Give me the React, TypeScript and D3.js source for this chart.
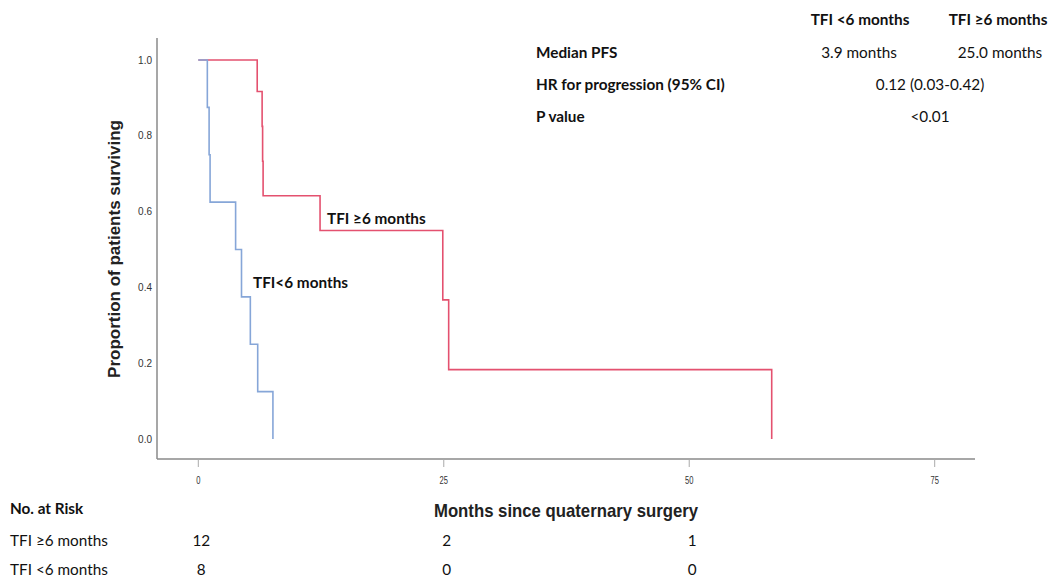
import React from 'react';
import * as d3 from 'd3';

// Kaplan-Meier steps (months, proportion surviving)
const longTimes = [0, 6.0, 6.5, 6.55, 6.6, 12.4, 24.9, 25.5, 58.4];
const longSurv = [1.0, 0.917, 0.825, 0.733, 0.642, 0.55, 0.367, 0.183, 0.0];
const shortTimes = [0, 0.92, 1.1, 1.2, 3.8, 4.4, 5.3, 6.05, 7.6];
const shortSurv = [1.0, 0.875, 0.75, 0.625, 0.5, 0.375, 0.25, 0.125, 0.0];

const xTicks = [0, 25, 50, 75];
const yTicks = [0, 0.2, 0.4, 0.6, 0.8, 1.0];

const riskTimes = [0, 25, 50];
const riskLong = [12, 2, 1];
const riskShort = [8, 0, 0];

const RED = '#e4516f';
const BLUE = '#86a6d8';
const CAL = 'Lato, "Open Sans", sans-serif';
const ARIAL = '"Liberation Sans", Arial, sans-serif';
const FS = 15.3;

function App() {
  const x = d3.scaleLinear().domain([0, 75]).range([198.3, 934.7]);
  const y = d3.scaleLinear().domain([0, 1]).range([439, 60]);

  const line = d3.line<[number, number]>()
    .x(d => x(d[0]))
    .y(d => y(d[1]))
    .curve(d3.curveStepAfter);

  const longPts = longTimes.map((t, i) => [t, longSurv[i]] as [number, number]);
  const shortPts = shortTimes.map((t, i) => [t, shortSurv[i]] as [number, number]);

  return (
    <svg width={1049} height={576} style={{ position: 'absolute', left: 0, top: 0, background: '#fff' }}>
      {/* axes */}
      <line x1={157} x2={157} y1={38} y2={459} stroke="#8a8a8a" strokeWidth={1.5} />
      <line x1={157} x2={975} y1={459} y2={459} stroke="#8a8a8a" strokeWidth={1.5} />
      {xTicks.map(t => (
        <g key={t}>
          <line x1={x(t)} x2={x(t)} y1={459} y2={467} stroke="#aaa" strokeWidth={1} />
          <text x={x(t)} y={484} textAnchor="middle" fontFamily={ARIAL} fontSize={10.5}
            fill="#333" transform={`translate(${x(t)},0) scale(0.72,1) translate(${-x(t)},0)`}>{t}</text>
        </g>
      ))}
      {yTicks.map(t => (
        <text key={t} x={152} y={y(t) + 3.5} textAnchor="end" fontFamily={ARIAL} fontSize={10} fill="#333">
          {d3.format('.1f')(t)}
        </text>
      ))}
      <text transform="translate(120,249) rotate(-90)" textAnchor="middle" fontFamily={ARIAL}
        fontWeight="bold" fontSize={17} fill="#222">Proportion of patients surviving</text>
      <text textAnchor="middle" fontFamily={ARIAL} fontWeight="bold" fontSize={18} fill="#222"
        transform="translate(566,517) scale(0.93,1)">Months since quaternary surgery</text>

      {/* curves */}
      <path d={line(longPts) || ''} fill="none" stroke={RED} strokeWidth={1.6} />
      <path d={line(shortPts) || ''} fill="none" stroke={BLUE} strokeWidth={1.6} />

      <text x={327} y={224} fontFamily={CAL} fontWeight="bold" fontSize={FS} fill="#111">TFI ≥6 months</text>
      <text x={253} y={288} fontFamily={CAL} fontWeight="bold" fontSize={FS} fill="#111">TFI&lt;6 months</text>

      {/* summary table */}
      <g fontFamily={CAL} fontSize={FS} fill="#111">
        <text x={860} y={25} textAnchor="middle" fontWeight="bold">TFI &lt;6 months</text>
        <text x={998} y={25} textAnchor="middle" fontWeight="bold">TFI ≥6 months</text>
        <text x={536} y={58} fontWeight="bold">Median PFS</text>
        <text x={859} y={58} textAnchor="middle">3.9 months</text>
        <text x={1000} y={58} textAnchor="middle">25.0 months</text>
        <text x={536} y={90} fontWeight="bold">HR for progression (95% CI)</text>
        <text x={930} y={90} textAnchor="middle">0.12 (0.03-0.42)</text>
        <text x={536} y={122} fontWeight="bold">P value</text>
        <text x={930} y={122} textAnchor="middle">&lt;0.01</text>
      </g>

      {/* number at risk */}
      <g fontFamily={CAL} fontSize={FS} fill="#111">
        <text x={10} y={514} fontWeight="bold">No. at Risk</text>
        <text x={10} y={546}>TFI ≥6 months</text>
        <text x={10} y={575}>TFI &lt;6 months</text>
        {riskTimes.map((t, i) => (
          <g key={t}>
            <text x={x(t) + 3} y={546} textAnchor="middle">{riskLong[i]}</text>
            <text x={x(t) + 3} y={575} textAnchor="middle">{riskShort[i]}</text>
          </g>
        ))}
      </g>
    </svg>
  );
}

export default App;
